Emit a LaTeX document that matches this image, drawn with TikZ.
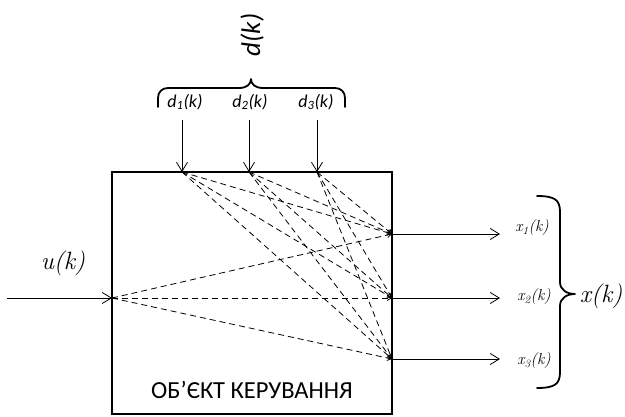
\documentclass[tikz,border=0pt]{standalone}
\usepackage{fontspec}
\newfontfamily\calib{Carlito}
\usetikzlibrary{arrows.meta}
\tikzset{
  sig/.style={draw=black, line width=0.8pt, -{Straight Barb[length=9pt,width=11pt,line width=0.8pt]}},
  dsh/.style={draw=black, line width=0.8pt, dash pattern=on 6pt off 4pt, -{Straight Barb[length=4pt,width=5pt]}},
  boxst/.style={draw=black, line width=2.6pt, minimum width=280pt, minimum height=242pt, inner sep=0pt},
  bracest/.style={draw=black, line width=1.8pt, line cap=round, line join=round},
  dlab/.style={font=\calib\itshape\fontsize{18}{20}\selectfont, inner sep=0pt},
  xlab/.style={font=\rmfamily\itshape\fontsize{16}{18}\selectfont, inner sep=0pt},
  biglab/.style={font=\rmfamily\itshape\fontsize{25}{27}\selectfont, inner sep=0pt}
}
\begin{document}
\begin{tikzpicture}[x=1pt,y=-1pt]
\useasboundingbox (0,0) rectangle (625,417);
\node[boxst] (box) at (252,293) {};
\node[font=\calib\fontsize{24.5}{26}\selectfont, inner sep=0pt] (name) at (252,390) {ОБ’ЄКТ КЕРУВАННЯ};
% input points
\coordinate (d1) at (182,172);
\coordinate (d2) at (249,172);
\coordinate (d3) at (317,172);
\coordinate (u) at (112,298);
\coordinate (x1) at (392,234);
\coordinate (x2) at (392,298);
\coordinate (x3) at (392,359);
% disturbance arrows
\coordinate (d1s) at (182,120);
\coordinate (d2s) at (249,120);
\coordinate (d3s) at (317,120);
\draw[sig] (d1s) -- (d1);
\draw[sig] (d2s) -- (d2);
\draw[sig] (d3s) -- (d3);
\node[dlab] (ld1) at (185,102) {d\textsubscript{1}(k)};
\node[dlab] (ld2) at (250,102) {d\textsubscript{2}(k)};
\node[dlab] (ld3) at (316,102) {d\textsubscript{3}(k)};
% top brace
\coordinate (bl) at (158,107);
\coordinate (br) at (345,107);
\coordinate (bt) at (251,79);
\draw[bracest] (bl) -- ++(0,-9) .. controls +(0,-6) and +(-6,0) .. ++(10,-10)
  -- (239,88) .. controls +(8,0) and +(0,5) .. (bt)
  .. controls +(0,5) and +(-8,0) .. (263,88) -- (335,88)
  .. controls +(6,0) and +(0,-6) .. (345,98) -- (br);
\node[font=\calib\itshape\fontsize{27}{29}\selectfont, inner sep=0pt, rotate=90] (dk) at (252,35) {d(k)};
% input u
\coordinate (us) at (7,298);
\draw[sig] (us) -- (u);
\node[biglab] (uk) at (63,263) {u(k)};
% outputs
\coordinate (x1e) at (500,234);
\coordinate (x2e) at (500,298);
\coordinate (x3e) at (500,359);
\draw[sig] (x1) -- (x1e);
\draw[sig] (x2) -- (x2e);
\draw[sig] (x3) -- (x3e);
\node[xlab] (lx1) at (532,228) {x\textsubscript{1}(k)};
\node[xlab] (lx2) at (534,297) {x\textsubscript{2}(k)};
\node[xlab] (lx3) at (534,361) {x\textsubscript{3}(k)};
% right brace
\coordinate (rt) at (537,196);
\coordinate (rb) at (537,388);
\coordinate (rtip) at (575,294);
\draw[bracest] (rt) .. controls +(18,0) and +(0,-12) .. (560,212) -- (560,282)
  .. controls +(0,8) and +(-8,0) .. (rtip)
  .. controls +(-8,0) and +(0,-8) .. (560,306) -- (560,372)
  .. controls +(0,12) and +(18,0) .. (rb);
\node[biglab] (xk) at (601,296) {x(k)};
% dashed couplings
\foreach \s in {d1,d2,d3,u}{
  \foreach \t in {x1,x2,x3}{
    \draw[dsh] (\s) -- (\t);
  }
}
\end{tikzpicture}
\end{document}
